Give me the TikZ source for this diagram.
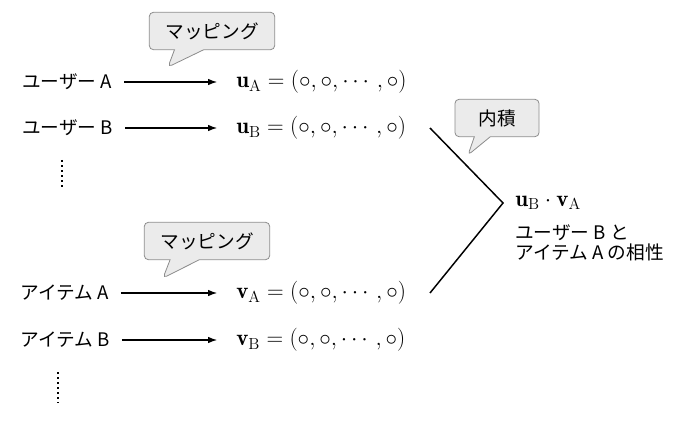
\documentclass[tikz,border=0pt]{standalone}
\usepackage{fontspec}
\usepackage{amsmath}
\usetikzlibrary{arrows.meta,shapes.callouts}
\newfontfamily\jpfont{Noto Sans CJK JP}

\begin{document}
\begin{tikzpicture}[x=0.75pt,y=-0.75pt,
  jlabel/.style={anchor=west,inner sep=0pt,font=\jpfont\fontsize{14}{15}\selectfont},
  vect/.style={anchor=west,inner sep=0pt,font=\fontsize{17.28}{20}\selectfont},
  mapto/.style={-{Latex[length=7pt,width=5pt]},line width=1.1pt,shorten <=9pt,shorten >=14pt},
  balloon/.style={rectangle callout,rounded corners=3pt,draw=black!45,fill=black!8,line width=0.6pt,
    minimum height=28pt,callout pointer width=22pt,font=\jpfont\fontsize{14}{15}\selectfont},
  vdots/.style={line width=1.6pt,dash pattern=on 1.4pt off 2.4pt}]
\useasboundingbox (0,0) rectangle (680,423);
% users
\node[jlabel] (usera) at (22,82) {ユーザー A};
\node[jlabel] (userb) at (22,128) {ユーザー B};
\node[vect] (veca) at (236,82) {$\mathbf{u}_{\mathrm{A}}=(\circ,\circ,\cdots,\circ)$};
\node[vect] (vecb) at (236,128) {$\mathbf{u}_{\mathrm{B}}=(\circ,\circ,\cdots,\circ)$};
\draw[mapto] (usera) -- (veca);
\draw[mapto] (userb) -- (vecb);
\draw[vdots] (62,160) -- (62,190);
\node[balloon,minimum width=94pt,callout absolute pointer={(168,67)}] (mapu) at (212,31) {マッピング};
% items
\node[jlabel] (itema) at (20,293) {アイテム A};
\node[jlabel] (itemb) at (20,340) {アイテム B};
\node[vect] (vitema) at (236,293) {$\mathbf{v}_{\mathrm{A}}=(\circ,\circ,\cdots,\circ)$};
\node[vect] (vitemb) at (236,340) {$\mathbf{v}_{\mathrm{B}}=(\circ,\circ,\cdots,\circ)$};
\draw[mapto] (itema) -- (vitema);
\draw[mapto] (itemb) -- (vitemb);
\draw[vdots] (58,372) -- (58,403);
\node[balloon,minimum width=94pt,callout absolute pointer={(163,278)}] (mapv) at (207,241) {マッピング};
% inner product
\coordinate (ktop) at (430,128);
\coordinate (kbot) at (430,293);
\node[vect,inner xsep=9pt] (prod) at (503,203) {$\mathbf{u}_{\mathrm{B}}\cdot\mathbf{v}_{\mathrm{A}}$};
\draw[line width=1.1pt] (ktop) -- (prod.west) -- (kbot);
\node[balloon,minimum width=63pt,callout pointer width=12pt,callout absolute pointer={(468,155)}] (dot) at (497,118) {内積};
\node[jlabel,align=left] (aff) at (515,243) {ユーザー B と\\アイテム A の相性};
\end{tikzpicture}
\end{document}
